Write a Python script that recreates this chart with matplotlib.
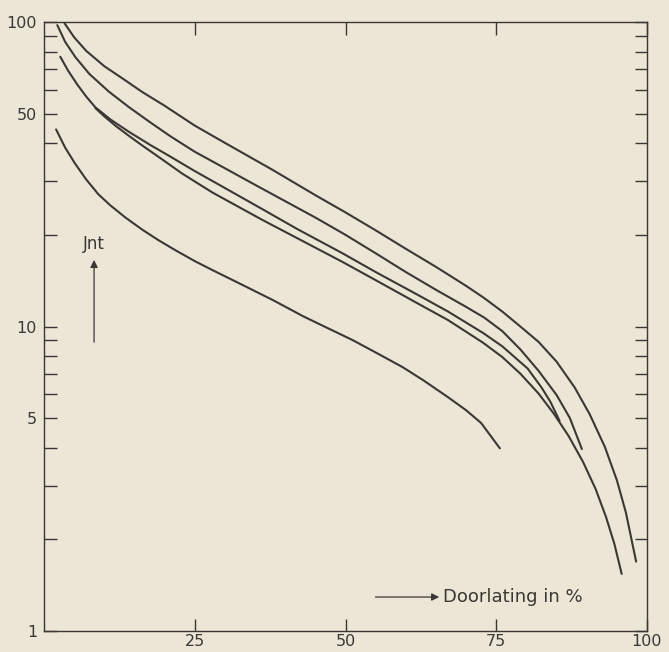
import matplotlib
matplotlib.use("Agg")
import matplotlib.pyplot as plt
from matplotlib.ticker import LogLocator, FixedLocator, NullFormatter

# curves (x = Doorlating in %, y = Int)
a_x = [3.4, 5, 7, 10, 13, 16.3, 20, 25, 30, 37.9, 45, 50, 55, 60, 65, 70, 73, 76, 79,
       82, 85, 88, 90.5, 93, 95, 96.5, 98.2]
a_y = [99.1, 89.1, 80.4, 71.6, 65.3, 58.9, 53.1, 45.7, 40.1, 32.7, 27.0, 23.7, 20.7, 18.0,
       15.7, 13.6, 12.4, 11.2, 10.0, 8.91, 7.67, 6.31, 5.15, 4.03, 3.13, 2.45, 1.69]

b_x = [2.2, 3.5, 5.2, 7.5, 10.7, 14, 17.5, 21, 25, 30, 35, 40, 45, 50, 55, 60, 65, 70,
       73, 76, 79, 82, 85, 87.2, 89.2]
b_y = [97.7, 86.1, 76.7, 67.6, 59.2, 52.7, 47.0, 42.1, 37.5, 33.1, 29.2, 25.8, 22.8, 20.0,
       17.4, 15.1, 13.2, 11.6, 10.7, 9.66, 8.41, 7.16, 5.96, 5.01, 3.96]

c_x = [2.7, 4, 5.5, 7, 8.5, 11, 14, 17.5, 21, 25, 30, 36.2, 42, 49.5, 55, 62, 67, 72.8,
       76, 80.2, 82.5, 84, 85.5]
c_y = [76.9, 69.2, 62.4, 56.9, 52.5, 47.9, 43.7, 39.6, 36.1, 32.4, 28.5, 24.3, 20.9, 17.4,
       15.1, 12.7, 11.2, 9.53, 8.61, 7.28, 6.31, 5.65, 4.90]

d_x = [8.5, 10, 12, 14, 16.3, 19.5, 22.9, 28, 36.2, 42, 49.5, 55, 62, 67, 72.8, 76, 79,
       82, 84.5, 87, 89.4, 91.5, 93.2, 94.6, 95.8]
d_y = [52.2, 49.0, 45.4, 42.4, 39.3, 35.5, 31.8, 27.5, 22.4, 19.5, 16.3, 14.2, 11.9, 10.5,
       8.85, 7.94, 7.00, 6.03, 5.19, 4.37, 3.59, 2.92, 2.37, 1.93, 1.54]

e_x = [2.0, 3.5, 5.1, 7, 9, 11, 13.5, 16.3, 19, 21.8, 25, 28, 32.9, 38, 43, 47, 51.2, 55,
       59.5, 63, 67, 70, 72.5, 75.6]
e_y = [44.4, 38.7, 34.4, 30.4, 27.2, 25.0, 22.8, 20.8, 19.2, 17.8, 16.4, 15.3, 13.7, 12.2,
       10.8, 9.89, 9.02, 8.22, 7.35, 6.64, 5.86, 5.31, 4.82, 3.98]

x_ticks = [25, 50, 75, 100]
y_ticks = [1, 5, 10, 50, 100]

paper = "#ece6d7"
ink = "#3b3833"

fig = plt.figure(figsize=(6.69, 6.52), dpi=100, facecolor=paper)
ax = fig.add_axes([0.0658, 0.0322, 0.9013, 0.934], facecolor=paper)

for xs, ys in [(a_x, a_y), (b_x, b_y), (c_x, c_y), (d_x, d_y), (e_x, e_y)]:
    ax.plot(xs, ys, color=ink, lw=1.5, solid_capstyle="round", solid_joinstyle="round")

ax.set_yscale("log")
ax.set_xlim(0, 100)
ax.set_ylim(1, 100)

for s in ax.spines.values():
    s.set_color(ink)
    s.set_linewidth(1.0)

ax.xaxis.set_major_locator(FixedLocator(x_ticks))
ax.yaxis.set_major_locator(FixedLocator(y_ticks))
ax.yaxis.set_minor_locator(LogLocator(base=10, subs=[2, 3, 4, 6, 7, 8, 9]))
ax.yaxis.set_minor_formatter(NullFormatter())
ax.set_yticklabels([str(v) for v in y_ticks])
ax.set_xticklabels([str(v) for v in x_ticks])

ax.tick_params(which="both", direction="in", top=True, right=True,
               color=ink, width=1.0, length=9, labelcolor=ink, labelsize=11.5)
ax.tick_params(axis="x", pad=2)
ax.tick_params(axis="y", pad=5)

# axis captions with arrows
ax.text(8.3, 17.4, "Jnt", ha="center", va="bottom", color=ink, fontsize=12)
ax.annotate("", xy=(8.3, 16.9), xytext=(8.3, 8.7),
            arrowprops=dict(arrowstyle="-|>", color=ink, lw=0.9, mutation_scale=11))
ax.annotate("", xy=(66.0, 1.293), xytext=(54.5, 1.293),
            arrowprops=dict(arrowstyle="-|>", color=ink, lw=0.9, mutation_scale=11))
ax.text(66.2, 1.293, "Doorlating in %", ha="left", va="center", color=ink, fontsize=13)

fig.savefig("out.png", dpi=100, facecolor=paper)
